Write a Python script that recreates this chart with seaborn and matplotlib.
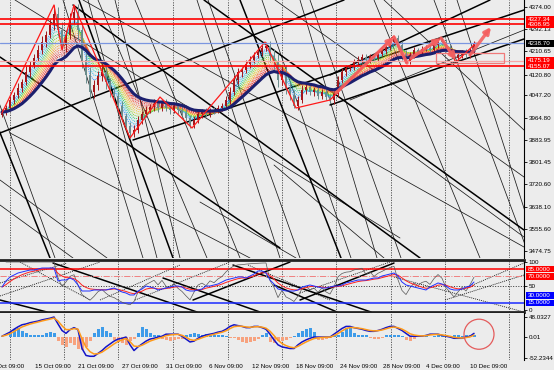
import numpy as np
import pandas as pd
import matplotlib
matplotlib.use("Agg")
import matplotlib.pyplot as plt
import matplotlib.transforms as mtransforms
from matplotlib.patches import Rectangle, Ellipse
import seaborn as sns

# ---------------- data ----------------
first_open = 3975.0
closes = [
    3986, 4001, 4031, 4049, 4075, 4097, 4134, 4159, 4185, 4215,
    4244, 4270, 4307, 4347, 4288, 4233, 4270, 4332, 4354, 4288,
    4178, 4123, 4060, 4086, 4119, 4134, 4097, 4060, 4045, 4009,
    3972, 3935, 3909, 3920, 3957, 3979, 3994, 4005, 4016, 4001,
    4020, 4001, 3994, 4009, 3994, 3983, 3964, 3939, 3957, 3979,
    3986, 3979, 3994, 3990, 4001, 4009, 4031, 4060, 4104, 4134,
    4141, 4163, 4178, 4196, 4207, 4222, 4229, 4193, 4170, 4104,
    4134, 4075, 4049, 4009, 4031, 4067, 4078, 4060, 4067, 4045,
    4060, 4042, 4031, 4053, 4104, 4134, 4148, 4152, 4170, 4178,
    4189, 4178, 4193, 4185, 4200, 4211, 4226, 4244, 4259, 4233,
    4196, 4174, 4196, 4215, 4207, 4218, 4222, 4215, 4233, 4251,
    4244, 4222, 4207, 4185, 4196, 4207, 4196, 4211, 4239]
upper_wick = [
    10, 12, 15, 10, 18, 12, 20, 14, 16, 18,
    22, 15, 20, 33, 25, 30, 18, 20, 26, 30,
    28, 25, 30, 20, 18, 22, 26, 15, 20, 14,
    18, 12, 15, 20, 16, 10, 14, 12, 18, 15,
    10, 16, 12, 14, 10, 12, 15, 10, 14, 12,
    10, 14, 8, 12, 10, 12, 14, 18, 20, 15,
    12, 16, 14, 12, 10, 12, 15, 20, 25, 30,
    22, 25, 18, 20, 15, 18, 12, 14, 10, 12,
    10, 14, 10, 12, 16, 14, 12, 10, 12, 14,
    10, 12, 8, 10, 12, 10, 8, 10, 7, 12,
    14, 18, 10, 12, 8, 10, 12, 10, 12, 8,
    10, 12, 14, 10, 12, 8, 10, 12, 8]
lower_wick = [
    8, 10, 12, 15, 10, 14, 12, 18, 10, 12,
    15, 20, 12, 18, 22, 18, 25, 15, 20, 35,
    30, 28, 25, 22, 20, 18, 25, 20, 15, 18,
    20, 15, 18, 14, 12, 16, 10, 12, 14, 16,
    12, 10, 14, 12, 16, 12, 14, 11, 12, 10,
    14, 12, 10, 12, 8, 10, 12, 14, 12, 16,
    18, 12, 14, 10, 12, 14, 10, 22, 26, 25,
    20, 22, 18, 8, 14, 12, 15, 12, 14, 10,
    12, 10, 12, 14, 10, 12, 14, 10, 12, 14,
    12, 10, 12, 14, 10, 8, 12, 10, 12, 16,
    18, 7, 12, 10, 12, 10, 8, 12, 10, 10,
    12, 14, 10, 15, 12, 10, 12, 10, 10]

ribbon_spans = [3, 4, 5, 6, 7, 8, 9, 10, 11, 12, 13, 14, 15]
navy_span = 17

rsi_main = [
    47.9, 60.4, 68.8, 72.9, 77.1, 79.2, 81.3, 83.3, 83.3, 85.4,
    87.5, 87.5, 87.5, 87.5, 60.4, 62.5, 62.5, 66.7, 62.5, 52.1,
    39.6, 39.6, 39.6, 41.7, 41.7, 41.7, 41.7, 43.8, 45.8, 41.7,
    37.5, 35.4, 31.3, 31.3, 39.6, 43.8, 50.0, 47.9, 45.8, 41.7,
    43.8, 45.8, 47.9, 50.0, 50.0, 47.9, 41.7, 39.6, 39.6, 41.7,
    43.8, 50.0, 50.0, 52.1, 54.2, 58.3, 62.5, 64.6, 66.7, 68.8,
    68.8, 66.7, 70.8, 75.0, 81.3, 81.3, 77.1, 62.5, 54.2, 43.8,
    41.7, 39.6, 39.6, 39.6, 41.7, 47.9, 50.0, 52.1, 50.0, 47.9,
    45.8, 45.8, 47.9, 50.0, 50.0, 52.1, 56.3, 58.3, 60.4, 62.5,
    62.5, 62.5, 64.6, 66.7, 66.7, 70.8, 72.9, 75.0, 77.1, 70.8,
    58.3, 52.1, 50.0, 47.9, 45.8, 43.8, 41.7, 47.9, 52.1, 56.3,
    54.2, 50.0, 43.8, 41.7, 41.7, 43.8, 47.9, 50.0, 58.3]
rsi_signal_span = 4
rsi_fast_period = 5

macd_main = [
    1, 6, 11, 18, 24, 29, 31, 34, 36, 38,
    41, 43, 45, 48, 31, 15, 8, 17, 22, 17,
    -29, -46, -48, -48, -41, -34, -25, -18, -11, -6,
    -4, -1, -20, -34, -25, -18, -11, -6, -4, -1,
    1, 6, 6, 6, 6, 1, -6, -13, -11, -4,
    1, 4, 6, 8, 11, 13, 18, 25, 29, 27,
    25, 22, 22, 25, 25, 22, 18, 6, -8, -20,
    -25, -27, -29, -29, -20, -13, -8, -4, -1, -1,
    -1, -1, -1, 6, 13, 20, 25, 25, 22, 20,
    18, 15, 13, 13, 15, 18, 22, 25, 25, 20,
    15, 8, 1, 1, 1, 1, 3, 6, 6, 6,
    3, 1, -1, -4, -4, -4, -1, 1, 8]
macd_hist = [
    -2, -2, 10, 18, 20, 15, 8, 5, 5, 4,
    5, 10, 12, 8, -10, -20, -25, -15, -20, -30,
    -33, -25, -10, 8, 18, 24, 15, 8, -8, -12,
    -15, -20, -10, -5, 10, 24, 18, 8, 4, 4,
    -5, -8, -10, -8, -6, -5, 3, 6, 8, 7,
    5, 6, 3, 3, 3, 3, 2, -3, -3, -8,
    -12, -16, -14, -10, -6, 4, 8, -12, -16, -10,
    -10, -8, -4, 2, 8, 14, 18, 20, 12, -8,
    -8, -6, -4, 4, 3, 12, 22, 20, 10, 5,
    5, 3, -3, -5, -5, -4, 3, 5, 5, 4,
    2, -8, -10, -6, 2, -2, 2, -2, 2, 3,
    3, 3, 2, 3, 3, 2, 3, 4, 5]
signal_span = 3

zigzag_bars = [0, 13, 15, 18, 32, 39.5, 47.5, 65.75, 73.5, 82, 98, 101, 109.75, 113.5, 118.5]
zigzag_prices = [3982.8, 4380.2, 4214.6, 4380.2, 3890.8, 4041.6, 3927.6, 4244.0,
                 4001.2, 4030.6, 4266.1, 4166.8, 4258.8, 4170.4, 4240.4]

arrow_start_bars = [83.5, 98, 102.25, 109.75, 117]
arrow_start_prices = [4056.4, 4262.4, 4185.2, 4258.8, 4196.2]
arrow_end_bars = [98, 101.25, 109.75, 113.5, 122.25]
arrow_end_prices = [4262.4, 4166.8, 4258.8, 4177.8, 4299.2]
arrow_has_head = [True, False, True, True, True]

box_bars = [108.5, 125.5]
box_prices = [4166.8, 4203.6]

level_values = [4327.34, 4308.95, 4238.70, 4175.19, 4155.07]
level_tags = ["4327.34", "4308.95", "4238.70", "4175.19", "4155.07"]

price_ticks = [4374.00, 4292.13, 4210.65, 4120.80, 4047.20, 3964.80,
               3883.95, 3801.45, 3720.60, 3638.10, 3555.60, 3474.75]

# trend lines: (bar1, price1, bar2, price2)
thick_lines = [
    (-0.5, 3909.2, 85.5, 4398.6),
    (32.75, 3883.4, 130.5, 4361.8),
    (17.75, 4380.2, 104.5, 3449.2),
    (-0.5, 4188.8, 69.5, 3486.0),
    (-13.75, 4398.6, 12, 3449.2),
    (19.25, 4398.6, 42.75, 3449.2),
    (50.5, 4398.6, 130.5, 3552.2),
    (59.5, 4398.6, 84.75, 3449.2),
    (82, 4122.6, 122, 4398.6),
    (82, 4012.2, 130.5, 4255.1),
]
thin_lines = [
    (-0.5, 3736.2, 26.25, 3449.2),
    (-0.5, 3644.2, 17.75, 3449.2),
    (2, 3909.2, 62, 3449.2),
    (3.25, 4398.6, 99.5, 3522.8),
    (68, 3791.4, 95.5, 3449.2),
    (90.5, 3957.0, 130.5, 3526.4),
    (68.25, 4398.6, 130.5, 3747.2),
    (49.5, 3655.2, 73.5, 3449.2),
    (87, 4030.6, 130.5, 4288.2),
    (95.5, 4398.6, 130.5, 3920.2),
    (20.25, 4398.6, 130.5, 3489.6),
    (-10, 4398.6, 13.25, 3449.2),
    (15.25, 4398.6, 35.25, 3449.2),
    (21.5, 4398.6, 38.75, 3449.2),
    (28.25, 4398.6, 44.5, 3449.2),
    (24, 4398.6, 51.25, 3449.2),
    (33.25, 4398.6, 59.5, 3449.2),
    (48.75, 4398.6, 69.5, 3449.2),
    (51.5, 4398.6, 74.5, 3449.2),
    (65, 4398.6, 87.25, 3449.2),
    (74.5, 4398.6, 93.75, 3449.2),
    (77, 4398.6, 99.75, 3449.2),
    (93, 4398.6, 119.5, 3449.2),
    (108, 4398.6, 132, 3449.2),
    (113.75, 4398.6, 134.5, 3449.2),
]
rsi_thick_lines = [
    (12.75, 97.9, 48.75, -4.2),
    (-0.5, 20.8, 11.25, -4.2),
    (40.25, 66.7, 64.5, -4.2),
    (57.75, 93.75, 92.25, -4.2),
    (47.75, 20.8, 72, 100),
    (74.5, 20.8, 98, 97.9),
    (68, 52.1, 83.75, -4.2),
]
rsi_dotted_lines = [
    (-0.5, 56.25, 16.25, 97.9),
    (-0.5, 29.2, 24.5, 100),
    (24.5, 20.8, 44.5, 93.75),
    (33.25, 20.8, 57, 100),
    (74.5, 35.4, 97, 100),
    (98, 68.75, 130.5, -4.2),
    (114.75, 41.7, 130.5, 97.9),
    (110.75, 20.8, 130.5, 72.9),
    (4.5, 100, 22, 20.8),
    (61.5, 93.75, 82, 20.8),
]

rsi_levels = [85, 70, 50, 15]
rsi_tag_values = [85, 70, 30, 15]
rsi_tag_texts = ["85.0000", "70.0000", "30.0000", "15.0000"]
rsi_ticks = [100, 50, 0]
macd_ticks = [48.0327, 0.01, -52.2344]
macd_tick_texts = ["48.0327", "0.01", "-52.2344"]

grid_bars = [2, 15.5, 29, 42.75, 56.5, 70, 83.5, 97.25, 110.75, 126.75]
date_bars = [-2.6, 8.25, 19.1, 30, 40.9, 51.75, 62.6, 73.5, 84.4, 95.25, 106.1, 117]
date_labels = ["9 Oct 09:00", "15 Oct 09:00", "21 Oct 09:00", "27 Oct 09:00",
               "31 Oct 09:00", "6 Nov 09:00", "12 Nov 09:00", "18 Nov 09:00",
               "24 Nov 09:00", "28 Nov 09:00", "4 Dec 09:00", "10 Dec 09:00"]

circle_center = (119.25, 5.9)

# ---------------- derived ----------------
close = pd.Series(closes, dtype=float)
opens = pd.Series([first_open] + closes[:-1], dtype=float)
bars = np.arange(len(close))
highs = np.maximum(opens, close) + np.array(upper_wick)
lows = np.minimum(opens, close) - np.array(lower_wick)


def rsi(series, n):
    d = series.diff()
    up = d.clip(lower=0).ewm(alpha=1 / n, adjust=False).mean()
    dn = (-d.clip(upper=0)).ewm(alpha=1 / n, adjust=False).mean()
    return 100 - 100 / (1 + up / dn)


rsi_s = pd.Series(rsi_main, dtype=float)
rsi_sig = rsi_s.ewm(span=rsi_signal_span, adjust=False).mean()
rsi_fast = rsi(close, rsi_fast_period)
macd_s = pd.Series(macd_main, dtype=float)
signal_s = macd_s.ewm(span=signal_span, adjust=False).mean()

# ---------------- style ----------------
sns.set_theme(style="white")
plt.rcParams["font.family"] = ["Liberation Sans", "DejaVu Sans"]
BG = "#ececec"
FS = 4.5
W, H = 554, 370

fig = plt.figure(figsize=(W / 100, H / 100), dpi=100)
fig.patch.set_facecolor(BG)


def rect(top, bottom):
    return [0, 1 - bottom / H, 524 / W, (bottom - top) / H]


ax = fig.add_axes(rect(0, 258))
ax_r = fig.add_axes(rect(260, 312), sharex=ax)
ax_m = fig.add_axes(rect(313, 360), sharex=ax)

for a in (ax, ax_r, ax_m):
    a.set_facecolor(BG)
    for s in a.spines.values():
        s.set_visible(False)
    a.spines["right"].set_visible(True)
    a.spines["right"].set_color("black")
    a.spines["right"].set_linewidth(0.8)
    a.yaxis.tick_right()
    a.tick_params(axis="y", right=True, length=2, width=0.6, pad=1.5,
                  labelsize=FS, colors="black")
    for g in grid_bars:
        a.axvline(g, color="#444444", lw=0.6, ls=(0, (1.5, 1.5)), zorder=1)

for side in ("top", "bottom"):
    ax_r.spines[side].set_visible(True)
    ax_r.spines[side].set_linewidth(2.0)
    ax_r.spines[side].set_color("#222222")

ax.set_xlim(-0.5, 130.5)
ax.set_ylim(3449.2, 4398.6)
ax_r.set_ylim(-4.17, 104.2)
ax_m.set_ylim(-57.1, 57.8)

# ----- main panel -----
for (b1, p1, b2, p2) in thin_lines:
    ax.plot([b1, b2], [p1, p2], color="#1a1a1a", lw=0.55, zorder=2)
for (b1, p1, b2, p2) in thick_lines:
    ax.plot([b1, b2], [p1, p2], color="black", lw=1.1, zorder=2)

ribbon_colors = ["#2f8fff", "#22b5f0", "#20c8c0", "#25c850", "#7ad52a", "#c8d820",
                 "#f0c820", "#f8a020", "#f88030", "#f86040", "#ee4040", "#e02828", "#d81818"]
for span, c in zip(ribbon_spans, ribbon_colors):
    sns.lineplot(x=bars, y=close.ewm(span=span, adjust=False).mean().values, ax=ax,
                 color=c, lw=0.7, linestyle=(0, (1, 1)), zorder=3)

bull = (close >= opens).values
body_col = np.where(bull, "#a3161a", "#6a8c8c")
ax.vlines(bars, lows, highs, colors=body_col, lw=0.7, zorder=4)
ax.bar(bars, np.abs(close - opens) + 0.8, bottom=np.minimum(opens, close), width=0.6,
       color=body_col, edgecolor="none", zorder=4)

sns.lineplot(x=bars, y=close.ewm(span=navy_span, adjust=False).mean().values, ax=ax,
             color="#1b1f6e", lw=2.2, zorder=5)

sns.lineplot(x=zigzag_bars, y=zigzag_prices, ax=ax, sort=False, color="#ff1a1a",
             lw=0.9, zorder=6)

for v, c, lw in zip(level_values, ["#ff0000", "#ff0000", "#7b96e0", "#f6a6a6", "#ff0000"],
                    [1.2, 1.2, 0.9, 0.9, 1.2]):
    ax.axhline(v, color=c, lw=lw, zorder=6)

ax.add_patch(Rectangle((box_bars[0], box_prices[0]), box_bars[1] - box_bars[0],
                       box_prices[1] - box_prices[0], facecolor="none",
                       edgecolor="#f07a7a", lw=0.9, zorder=6))

for b0, p0, b1, p1, head in zip(arrow_start_bars, arrow_start_prices, arrow_end_bars,
                                arrow_end_prices, arrow_has_head):
    ax.annotate("", xy=(b1, p1), xytext=(b0, p0),
                arrowprops=dict(arrowstyle="-|>" if head else "-", color="#f46060",
                                lw=2.4, mutation_scale=9, shrinkA=0, shrinkB=0,
                                alpha=0.9), zorder=7)

ax.set_yticks(price_ticks)
ax.set_yticklabels([f"{v:.2f}" for v in price_ticks])


def tag(a, value, text, face, px_per_unit):
    trans = mtransforms.blended_transform_factory(a.transAxes, a.transData)
    h = 6.5 / px_per_unit
    a.add_patch(Rectangle((1 + 1.5 / 524, value - h / 2), 28.5 / 524, h, transform=trans,
                          facecolor=face, edgecolor="none", clip_on=False, zorder=8))
    a.text(1 + 3.5 / 524, value, text, transform=trans, color="white", fontsize=FS,
           va="center", ha="left", zorder=9, clip_on=False)


tag_faces = ["#ff0000", "#ff0000", "#000000", "#ff0000", "#ff0000"]
for v, t, f in zip(level_values, level_tags, tag_faces):
    tag(ax, v, t, f, 1 / 3.68)

# ----- RSI panel -----
for (b1, p1, b2, p2) in rsi_dotted_lines:
    ax_r.plot([b1, b2], [p1, p2], color="#111111", lw=0.6, ls=(0, (1.2, 1.2)), zorder=2)
for (b1, p1, b2, p2) in rsi_thick_lines:
    ax_r.plot([b1, b2], [p1, p2], color="black", lw=1.1, zorder=2)
for v, c, ls, lw in zip(rsi_levels, ["#ff0000", "#f08080", "#333333", "#1a2aff"],
                        ["-", "-.", ":", "-"], [1.1, 0.7, 0.7, 1.1]):
    ax_r.axhline(v, color=c, ls=ls, lw=lw, zorder=3)
sns.lineplot(x=bars, y=rsi_fast.values, ax=ax_r, color="#555555", lw=0.5, zorder=3)
sns.lineplot(x=bars, y=rsi_sig.values, ax=ax_r, color="#ff2020", lw=0.7, zorder=4)
sns.lineplot(x=bars, y=rsi_s.values, ax=ax_r, color="#2030ff", lw=0.7, zorder=5)
ax_r.set_yticks(rsi_ticks)
ax_r.set_yticklabels([str(v) for v in rsi_ticks])
for v, t, f in zip(rsi_tag_values, rsi_tag_texts, ["#ff0000", "#ff0000", "#0000ff", "#0000ff"]):
    tag(ax_r, v, t, f, 0.48)

# ----- MACD panel -----
hist = np.array(macd_hist, dtype=float)
ax_m.bar(bars, hist, width=0.75, color=np.where(hist >= 0, "#3d9be9", "#f7a27e"),
         edgecolor="none", zorder=2)
sns.lineplot(x=bars, y=macd_s.values, ax=ax_m, color="#1414c8", lw=1.1, zorder=3)
sns.lineplot(x=bars, y=signal_s.values, ax=ax_m, color="#ff9a1a", lw=1.1, zorder=4)
ax_m.add_patch(Ellipse(circle_center, 7.5, 30 * 2.45, facecolor="none",
                       edgecolor="#e45c5c", lw=0.9, zorder=6))
ax_m.set_yticks(macd_ticks)
ax_m.set_yticklabels(macd_tick_texts)

for a in (ax, ax_r, ax_m):
    a.set_xlabel("")
    a.set_ylabel("")
    a.grid(False)
    a.tick_params(axis="x", bottom=False, labelbottom=False)

date_trans = mtransforms.blended_transform_factory(ax_m.transData, ax_m.transAxes)
for b, lab in zip(date_bars, date_labels):
    ax_m.text(b, -0.13, lab, transform=date_trans, ha="left", va="center",
              fontsize=FS, color="black", clip_on=False)
ax.set_xlim(-0.5, 130.5)

fig.savefig("out.png", dpi=100, facecolor=BG)
